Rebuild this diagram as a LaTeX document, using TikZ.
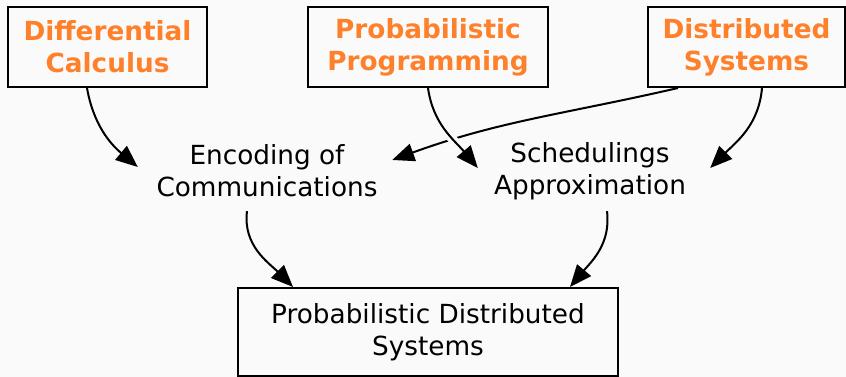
\documentclass[tikz,border=0pt]{standalone}
\usepackage{fontspec}
\setmainfont{DejaVu Sans}
\usetikzlibrary{arrows.meta}
\definecolor{topicOrange}{RGB}{255,128,42}
\definecolor{paperGray}{RGB}{250,250,250}

\begin{document}
\begin{tikzpicture}[x=1pt,y=1pt,
    field/.style={draw, line width=2pt, align=center, inner sep=0pt,
      minimum height=80pt, text=topicOrange,
      font=\fontsize{26.3}{32}\selectfont\bfseries},
    goal/.style={align=center, inner sep=0pt, minimum height=80pt,
      font=\fontsize{26.3}{32}\selectfont},
    link/.style={line width=2pt, -{Triangle[length=22pt,width=18pt]}}]
  \fill[paperGray] (0,0) rectangle (846,377);
  \useasboundingbox (0,0) rectangle (846,377);
  % the three fields on top
  \node[field, minimum width=199pt] (calc) at (107.5,330) {Differential\\Calculus};
  \node[field, minimum width=240pt] (prob) at (428,330) {Probabilistic\\Programming};
  \node[field, minimum width=197pt] (dist) at (746.5,330) {Distributed\\Systems};
  % what they give
  \node[goal, minimum width=258pt] (enc) at (267,206) {Encoding of\\Communications};
  \node[goal, minimum width=236pt] (sch) at (590,206) {Schedulings\\Approximation};
  \node[draw, line width=2pt, align=center, inner sep=0pt, minimum width=380pt,
    minimum height=88pt, font=\fontsize{26.3}{32}\selectfont]
    (pds) at (428,45) {Probabilistic Distributed\\Systems};
  % links
  \draw[link] ([xshift=-20.5pt]calc.south) to[out=-80,in=140] ([yshift=4pt]enc.west);
  \draw[link] ([xshift=-68.5pt]dist.south) to[out=-167,in=20] ([xshift=-4pt,yshift=11pt]enc.east);
  \draw[link, preaction={draw=paperGray, line width=9pt, -, shorten <=12pt, shorten >=28pt}]
    (prob.south) to[out=-82,in=130] ([xshift=6pt,yshift=3pt]sch.west);
  \draw[link] ([xshift=15.5pt]dist.south) to[out=-95,in=45] ([xshift=2pt,yshift=3pt]sch.east);
  \draw[link] ([xshift=-20pt]enc.south) to[out=-97,in=135] ([xshift=-135pt]pds.north);
  \draw[link] ([xshift=17pt]sch.south) to[out=-83,in=50] ([xshift=142pt]pds.north);
\end{tikzpicture}
\end{document}
